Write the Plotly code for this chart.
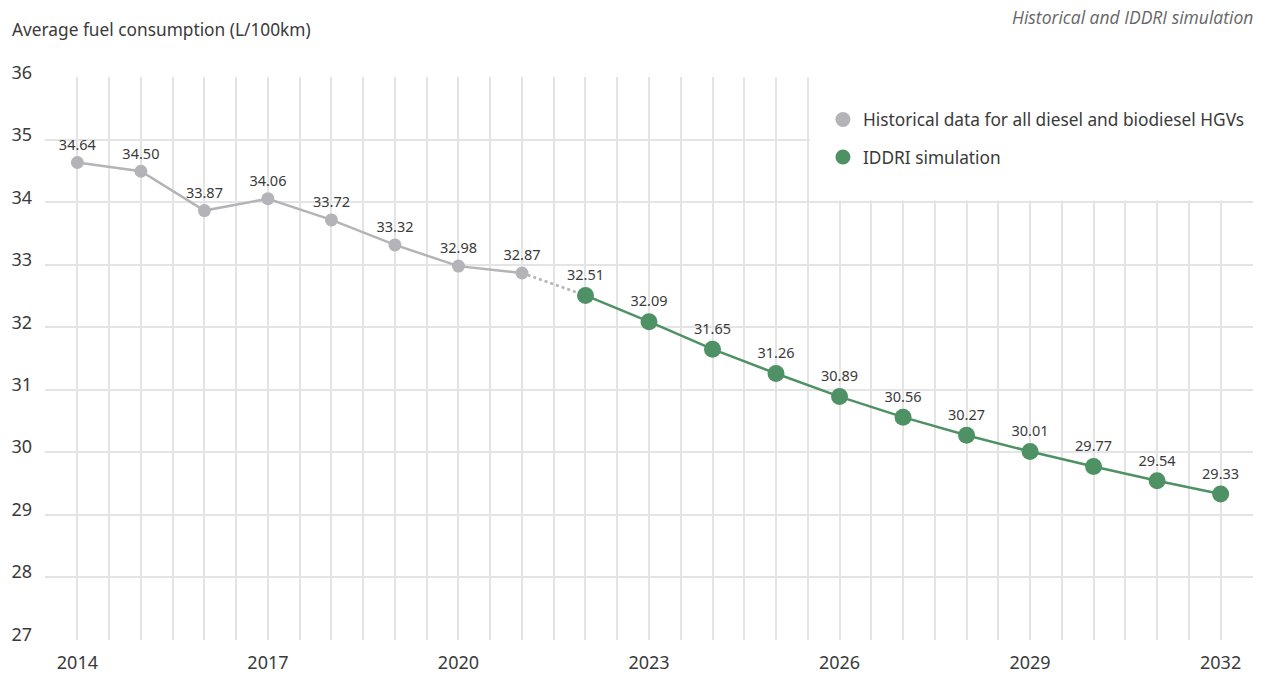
import plotly.graph_objects as go

# Historical values (L/100km)
hist_years = [2014, 2015, 2016, 2017, 2018, 2019, 2020, 2021]
hist_values = [34.64, 34.50, 33.87, 34.06, 33.72, 33.32, 32.98, 32.87]

# IDDRI simulation values (L/100km)
sim_years = [2022, 2023, 2024, 2025, 2026, 2027, 2028, 2029, 2030, 2031, 2032]
sim_values = [32.51, 32.09, 31.65, 31.26, 30.89, 30.56, 30.27, 30.01, 29.77, 29.54, 29.33]

x_ticks = [2014, 2017, 2020, 2023, 2026, 2029, 2032]
y_ticks = [27, 28, 29, 30, 31, 32, 33, 34, 35, 36]

GREY = "#b4b4b8"
GREEN = "#4e9164"
TEXT = "#3a3a3a"
GRID = "#e4e4e4"
FONT = "Noto Sans"

fig = go.Figure()

# dotted bridge between last historical point and first simulated point
fig.add_trace(go.Scatter(
    x=[hist_years[-1], sim_years[0]], y=[hist_values[-1], sim_values[0]],
    mode="lines", line=dict(color=GREY, width=2.5, dash="dot"),
    showlegend=False, hoverinfo="skip",
))

fig.add_trace(go.Scatter(
    x=hist_years, y=hist_values, mode="lines+markers+text",
    line=dict(color=GREY, width=2.5),
    marker=dict(color=GREY, size=13),
    text=[f"{v:.2f}" for v in hist_values], textposition="top center",
    textfont=dict(family=FONT, size=14.5, color=TEXT),
    showlegend=False, cliponaxis=False,
))

fig.add_trace(go.Scatter(
    x=sim_years, y=sim_values, mode="lines+markers+text",
    line=dict(color=GREEN, width=2.5),
    marker=dict(color=GREEN, size=17),
    text=[f"{v:.2f}" for v in sim_values], textposition="top center",
    textfont=dict(family=FONT, size=14.5, color=TEXT),
    showlegend=False, cliponaxis=False,
))

# legend entries
fig.add_trace(go.Scatter(
    x=[None], y=[None], mode="markers", marker=dict(color=GREY, size=15),
    name="Historical data for all diesel and biodiesel HGVs", legendgroup="hist",
))
fig.add_trace(go.Scatter(
    x=[None], y=[None], mode="markers", marker=dict(color=GREEN, size=15),
    name="IDDRI simulation", legendgroup="sim",
))

# white panel behind the legend, hiding the grid there
fig.add_shape(
    type="rect", xref="x", yref="y", x0=2025.53, x1=2033.2, y0=34.03, y1=36.3,
    fillcolor="white", line=dict(width=0), layer="between",
)

fig.update_layout(
    width=1268, height=675,
    margin=dict(l=45, r=15, t=77, b=35),
    paper_bgcolor="white", plot_bgcolor="white",
    font=dict(family=FONT, color=TEXT),
    showlegend=True,
    legend=dict(
        x=0.644, y=0.956, xanchor="left", yanchor="top",
        bgcolor="rgba(0,0,0,0)", font=dict(family=FONT, size=17.3, color=TEXT),
        traceorder="grouped", tracegroupgap=12, itemwidth=30,
    ),
    xaxis=dict(
        range=[2013.49, 2032.51], tickmode="array", tickvals=x_ticks,
        ticktext=[str(v) for v in x_ticks], showgrid=False, zeroline=False,
        showline=False, ticks="", ticklabelstandoff=10, automargin=False,
        tickfont=dict(family=FONT, size=18, color=TEXT),
        minor=dict(dtick=0.5, tick0=2013.5, showgrid=True, gridcolor=GRID, gridwidth=2),
    ),
    yaxis=dict(
        range=[26.99, 36.01], tickmode="array", tickvals=y_ticks,
        showgrid=True, gridcolor=GRID, gridwidth=2, zeroline=False,
        showline=False, ticks="", ticklabelstandoff=12, ticklabelshift=-5,
        automargin=False, tickfont=dict(family=FONT, size=18, color=TEXT),
    ),
    annotations=[
        dict(text="Average fuel consumption (L/100km)", xref="paper", yref="paper",
             x=-0.029, y=1.0835, xanchor="left", yanchor="middle", showarrow=False,
             font=dict(family=FONT, size=17.3, color=TEXT)),
        dict(text="<i>Historical and IDDRI simulation</i>", xref="paper", yref="paper",
             x=1.0017, y=1.1066, xanchor="right", yanchor="middle", showarrow=False,
             font=dict(family="Open Sans", size=17.5, color="#666666")),
    ],
)

fig.write_html("out.html")
